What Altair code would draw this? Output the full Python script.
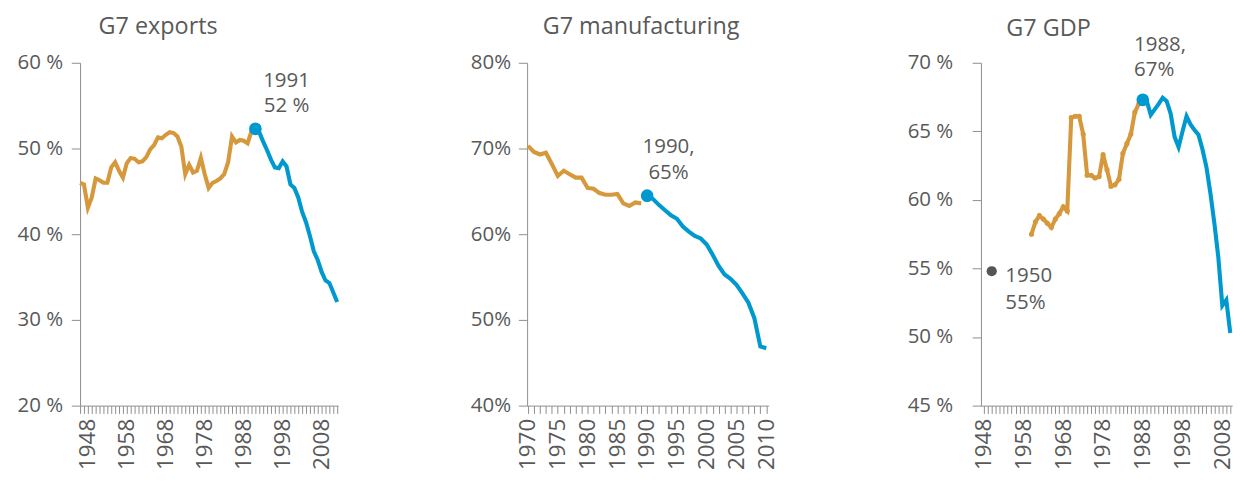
import altair as alt
import pandas as pd

FONT = "Open Sans"
GREY_TXT = "#595959"
ORANGE = "#D6983C"
BLUE = "#0099CF"

# ---------------- G7 exports ----------------
exp_years_orange = list(range(1946, 1992))
exp_orange = [46.0, 45.8, 43.1, 44.3, 46.5, 46.3, 46.0, 46.0, 47.8, 48.4,
              47.4, 46.6, 48.3, 48.9, 48.8, 48.4, 48.5, 49.0, 49.9, 50.4,
              51.3, 51.2, 51.6, 51.9, 51.8, 51.4, 50.2, 47.0, 48.1, 47.2,
              47.4, 48.9, 47.0, 45.4, 46.0, 46.2, 46.5, 47.0, 48.4, 51.4,
              50.7, 51.0, 50.9, 50.6, 52.0, 52.3]
exp_years_blue = list(range(1991, 2013))
exp_blue = [52.3, 51.9, 50.8, 49.8, 48.7, 47.8, 47.7, 48.5, 47.9, 45.8,
            45.4, 44.3, 42.6, 41.4, 39.8, 38.0, 37.0, 35.6, 34.6, 34.3,
            33.2, 32.1]
exp_peak = {"year": [1991], "value": [52.3], "label": ["1991\n52 %"]}

# ---------------- G7 manufacturing ----------------
man_years_orange = list(range(1970, 1990))
man_orange = [70.3, 69.6, 69.3, 69.5, 68.2, 66.8, 67.4, 67.0, 66.6, 66.6,
              65.4, 65.3, 64.8, 64.6, 64.6, 64.7, 63.6, 63.3, 63.7, 63.6]
man_years_blue = list(range(1990, 2011))
man_blue = [64.5, 64.1, 63.4, 62.8, 62.2, 61.8, 60.9, 60.3, 59.8, 59.5,
            58.8, 57.6, 56.3, 55.3, 54.8, 54.1, 53.1, 52.0, 50.2, 46.9, 46.7]
man_peak = {"year": [1990], "value": [64.5], "label": ["1990,\n65%"]}

# ---------------- G7 GDP ----------------
gdp_years_orange = list(range(1960, 1989))
gdp_orange = [57.5, 58.4, 58.85, 58.6, 58.3, 58.0, 58.6, 59.0, 59.5, 59.2,
              66.0, 66.1, 66.1, 64.8, 61.8, 61.8, 61.6, 61.7, 63.3, 62.2,
              61.0, 61.1, 61.5, 63.4, 64.1, 64.8, 66.4, 67.0, 67.3]
gdp_years_blue = list(range(1988, 2011))
gdp_blue = [67.3, 67.2, 66.2, 66.6, 67.0, 67.45, 67.2, 66.3, 64.6, 63.85,
            65.0, 66.1, 65.5, 65.1, 64.75, 63.7, 62.4, 60.5, 58.3, 55.8,
            52.3, 52.7, 50.3]
gdp_peak = {"year": [1988], "value": [67.3], "label": ["1988,\n67%"]}
gdp_1950 = {"year": [1950], "value": [54.8], "label": ["1950\n55%"]}

PLOT_H = 352


def panel(title, title_dx, title_off, yo, vo, yb, vb, peak, xdom, xticks, label_start,
          label_step, ydom, yvals, pct_fmt, ylabpad, width, ann_dx, ann_dy,
          ann_align, ann_lh, beads=False, extra=None):
    d_or = pd.DataFrame({"year": yo, "value": vo})
    d_bl = pd.DataFrame({"year": yb, "value": vb})
    d_pk = pd.DataFrame(peak)
    x = alt.X("year:Q", scale=alt.Scale(domain=xdom, nice=False, zero=False),
              axis=alt.Axis(values=xticks, title=None, grid=False,
                            labelAngle=270, labelFontSize=23, labelFont=FONT,
                            labelColor=GREY_TXT, labelPadding=5,
                            labelExpr=f"(datum.value - {label_start}) % {label_step} == 0 ? datum.value : ''",
                            tickSize=8, tickColor="#8c8c8c", domainColor="#8c8c8c",
                            labelOverlap=False, labelFlush=False, labelBound=False))
    y = alt.Y("value:Q", scale=alt.Scale(domain=ydom, nice=False, zero=False),
              axis=alt.Axis(values=yvals, title=None, grid=False,
                            labelExpr=f"datum.value + '{pct_fmt}'",
                            labelFontSize=21, labelFont=FONT, labelColor=GREY_TXT,
                            labelPadding=ylabpad, tickSize=9, tickColor="#8c8c8c",
                            domainColor="#8c8c8c"))
    orange = alt.Chart(d_or).mark_line(color=ORANGE, strokeWidth=4.2,
                                       point=alt.OverlayMarkDef(color=ORANGE, size=28, filled=True) if beads else False
                                       ).encode(x=x, y=y)
    blue = alt.Chart(d_bl).mark_line(color=BLUE, strokeWidth=4.2).encode(x=x, y=y)
    pk = alt.Chart(d_pk).mark_circle(color=BLUE, size=170, opacity=1).encode(x=x, y=y)
    ann = alt.Chart(d_pk).mark_text(lineBreak="\n", align=ann_align, baseline="alphabetic",
                                    dx=ann_dx, dy=ann_dy, fontSize=21, font=FONT,
                                    color=GREY_TXT, lineHeight=ann_lh).encode(x=x, y=y, text="label:N")
    layers = [orange, blue, pk, ann]
    if extra is not None:
        d_ex = pd.DataFrame(extra)
        layers.append(alt.Chart(d_ex).mark_circle(color="#555555", size=110, opacity=1).encode(x=x, y=y))
        layers.append(alt.Chart(d_ex).mark_text(lineBreak="\n", align="left", baseline="alphabetic",
                                                dx=14, dy=11, fontSize=21, font=FONT,
                                                color=GREY_TXT, lineHeight=28).encode(x=x, y=y, text="label:N"))
    return alt.layer(*layers).properties(
        width=width, height=PLOT_H,
        title=alt.TitleParams(title, anchor="start", frame="group", dx=title_dx,
                              fontSize=24, font=FONT, fontWeight="normal",
                              baseline="alphabetic",
                              color=GREY_TXT, offset=title_off))


p1 = panel("G7 exports", 19, -5, exp_years_orange, exp_orange, exp_years_blue, exp_blue,
           exp_peak, [1946, 2012.25], list(range(1946, 2013)), 1948, 10,
           [20, 60], [20, 30, 40, 50, 60], " %", 9, 265, 32, -43, "center", 26)
p2 = panel("G7 manufacturing", 16, -5, man_years_orange, man_orange, man_years_blue, man_blue,
           man_peak, [1969.85, 2010.4], list(range(1970, 2011)), 1970, 5,
           [40, 80], [40, 50, 60, 70, 80], "%", 8, 248, 22, -44, "center", 27)
p3 = panel("G7 GDP", 26, -25, gdp_years_orange, gdp_orange, gdp_years_blue, gdp_blue,
           gdp_peak, [1947.3, 2010.5], list(range(1948, 2011)), 1948, 10,
           [45, 70], [45, 50, 55, 60, 65, 70], " %", 20, 258, -9, -50, "left", 26,
           beads=True, extra=gdp_1950)

chart = alt.hconcat(alt.hconcat(p1, p2, spacing=124), p3, spacing=132).configure_view(
    stroke=None).properties(padding={"left": 9, "right": 0, "top": 1, "bottom": 0})

chart.save("out.html", embed_options={"renderer": "svg", "actions": False})
